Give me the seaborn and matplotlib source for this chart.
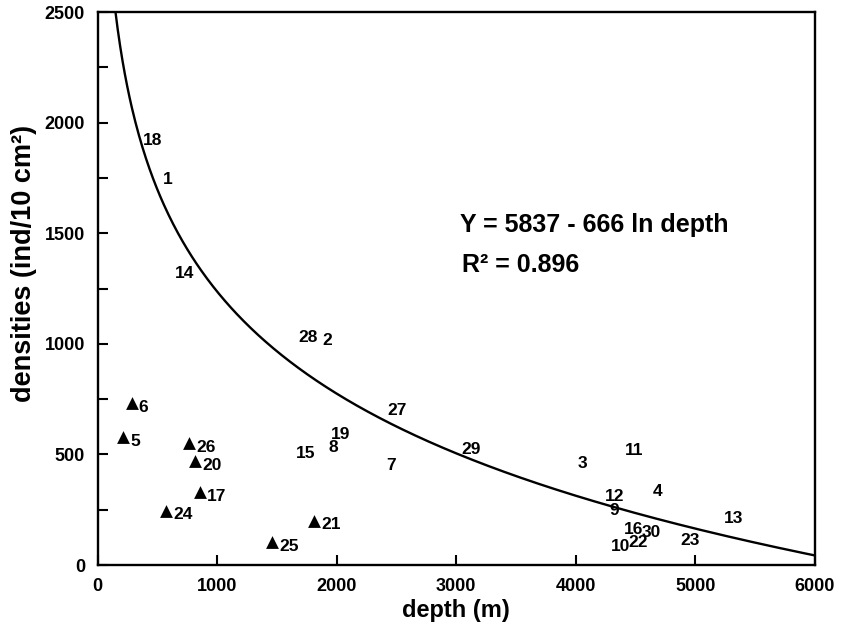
import numpy as np
import pandas as pd
import matplotlib
matplotlib.use("Agg")
import matplotlib.pyplot as plt
import seaborn as sns
from matplotlib.ticker import MultipleLocator

# Stations marked with a triangle (shelf / slope stations)
tri_station = ["6", "5", "26", "20", "17", "24", "21", "25"]
tri_depth = [286, 216, 768, 816, 858, 573, 1812, 1463]
tri_density = [731, 577, 550, 470, 330, 245, 200, 103]

# Stations shown only by their number
num_station = ["18", "1", "14", "28", "2", "19", "8", "15", "27", "7", "29",
               "3", "11", "12", "4", "9", "13", "16", "30", "10", "22", "23"]
num_depth = [462, 587, 724, 1764, 1923, 2029, 1973, 1742, 2504, 2453, 3125,
             4052, 4490, 4322, 4679, 4317, 5315, 4479, 4632, 4372, 4517, 4952]
num_density = [1921, 1745, 1316, 1029, 1014, 592, 532, 502, 698, 452, 524,
               457, 517, 312, 331, 247, 209, 161, 146, 83, 101, 113]

# Regression: Y = a - b ln(depth)
fit_a = 5837
fit_b = 666
fit_r2 = 0.896

sns.set_theme(style="ticks", rc={"text.color": "black", "axes.labelcolor": "black",
                                 "xtick.color": "black", "ytick.color": "black",
                                 "axes.edgecolor": "black"})
plt.rcParams["font.family"] = ["Liberation Sans", "DejaVu Sans"]
plt.rcParams["font.weight"] = "bold"

fig = plt.figure(figsize=(8.46, 6.35), dpi=100)
ax = fig.add_axes([0.1153, 0.1102, 0.8481, 0.8708])

# fitted curve
xs = np.linspace(100, 6000, 600)
curve = pd.DataFrame({"depth": xs, "density": fit_a - fit_b * np.log(xs)})
sns.lineplot(data=curve, x="depth", y="density", color="black", lw=1.7, ax=ax)

# triangle stations
tri = pd.DataFrame({"depth": tri_depth, "density": tri_density, "st": tri_station})
sns.scatterplot(data=tri, x="depth", y="density", marker="^", s=85,
                color="black", edgecolor="black", linewidth=0, ax=ax, zorder=3)
for d, v, s in zip(tri_depth, tri_density, tri_station):
    ax.annotate(s, (d, v), xytext=(5, -3), textcoords="offset points",
                ha="left", va="center", fontsize=12.5, fontweight="bold")

# numbered stations
for d, v, s in zip(num_depth, num_density, num_station):
    ax.text(d, v, s, ha="center", va="center", fontsize=12.5, fontweight="bold")

ax.text(3033, 1505, f"Y = {fit_a} - {fit_b} ln depth",
        fontsize=18, fontweight="bold", ha="left", va="baseline")
ax.text(3050, 1325, f"R² = {fit_r2}",
        fontsize=18, fontweight="bold", ha="left", va="baseline")

ax.set_xlim(0, 6000)
ax.set_ylim(0, 2500)
ax.xaxis.set_major_locator(MultipleLocator(1000))
ax.yaxis.set_major_locator(MultipleLocator(500))
ax.yaxis.set_minor_locator(MultipleLocator(250))
ax.tick_params(axis="both", which="major", direction="in", length=7, width=1.5,
               labelsize=13, pad=9)
ax.tick_params(axis="y", which="minor", direction="in", length=7, width=1.5)
for lab in ax.get_xticklabels() + ax.get_yticklabels():
    lab.set_fontweight("bold")

for sp in ax.spines.values():
    sp.set_visible(True)
    sp.set_linewidth(1.7)
    sp.set_color("black")

ax.set_xlabel("depth (m)", fontsize=17, fontweight="bold")
ax.set_ylabel("densities (ind/10 cm²)", fontsize=19.5, fontweight="bold")
ax.xaxis.set_label_coords(0.5, -0.062)
ax.yaxis.set_label_coords(-0.085, 0.545)

fig.savefig("out.png", dpi=100)
